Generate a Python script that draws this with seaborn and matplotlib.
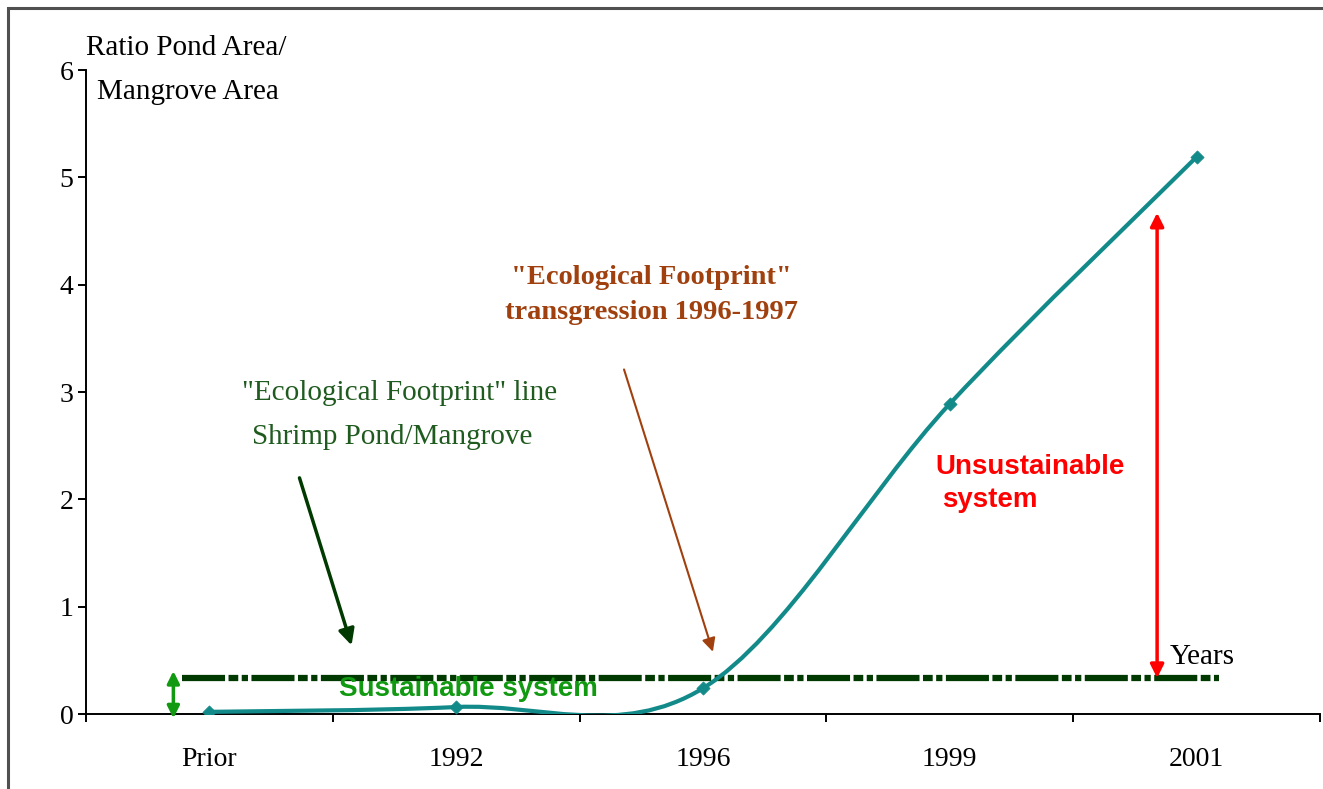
import numpy as np
import pandas as pd
import seaborn as sns
import matplotlib
matplotlib.use("Agg")
import matplotlib.pyplot as plt
from matplotlib.path import Path
from matplotlib.patches import PathPatch, Rectangle

# data
years = ["Prior", "1992", "1996", "1999", "2001"]
ratio = [0.02, 0.065, 0.24, 2.89, 5.19]
footprint_level = 0.335
footprint_span = [-0.11, 4.09]
y_ticks = [0, 1, 2, 3, 4, 5, 6]

teal = "#138a8a"
dark_green = "#003a00"
brown = "#a0400e"
red = "#ff0000"
green = "#119911"

sns.set_theme(style="white")
plt.rcParams['font.family'] = ['Liberation Serif', 'DejaVu Serif']
plt.rcParams['text.color'] = 'black'
plt.rcParams['xtick.color'] = 'black'
plt.rcParams['ytick.color'] = 'black'
plt.rcParams['lines.scale_dashes'] = False

fig = plt.figure(figsize=(13.23, 7.89), dpi=100)
ax = fig.add_axes([86 / 1323, 1 - 714 / 789, (1320 - 86) / 1323, (714 - 70) / 789])

df = pd.DataFrame({"pos": np.arange(len(years)), "ratio": ratio, "year": years})


def smooth_path(xs, ys):
    # excel-like smoothed line: cubic bezier with catmull-rom control points
    pts = np.column_stack([xs, ys]).astype(float)
    ext = np.vstack([pts[0], pts, pts[-1]])
    verts = [pts[0]]
    codes = [Path.MOVETO]
    for i in range(len(pts) - 1):
        p0, p1, p2, p3 = ext[i], ext[i + 1], ext[i + 2], ext[i + 3]
        verts += [p1 + (p2 - p0) / 6, p2 - (p3 - p1) / 6, p2]
        codes += [Path.CURVE4] * 3
    return Path(verts, codes)


# footprint line (dash dot dot)
ax.plot(footprint_span, [footprint_level, footprint_level], color=dark_green,
        lw=4.5, dashes=(31, 2.5, 7, 2.5, 4.5, 2.5), solid_capstyle='butt',
        dash_capstyle='butt', zorder=2)

ax.add_patch(PathPatch(smooth_path(df["pos"], df["ratio"]), fill=False,
                       ec=teal, lw=3, zorder=3))
sns.scatterplot(data=df, x="pos", y="ratio", marker='D', color=teal, s=45,
                edgecolor=teal, ax=ax, zorder=4, legend=False)

ax.set_xlim(-0.5, len(years) - 0.5)
ax.set_ylim(0, 6)
ax.set_xlabel("")
ax.set_ylabel("")
ax.set_yticks(y_ticks)
ax.set_xticks(np.arange(-0.5, len(years), 1.0))
ax.set_xticklabels([])
ax.set_xticks(np.arange(len(years)), minor=True)
ax.set_xticklabels(years, minor=True)
ax.tick_params(axis='x', which='major', direction='out', length=6, width=1.4,
               color='black', bottom=True)
ax.tick_params(axis='x', which='minor', length=0, pad=24, labelsize=20)
ax.tick_params(axis='y', direction='out', length=6, width=1.4, color='black',
               left=True, pad=3, labelsize=20)
for s in ['top', 'right']:
    ax.spines[s].set_visible(False)
for s in ['left', 'bottom']:
    ax.spines[s].set_color('black')
    ax.spines[s].set_linewidth(1.4)
ax.patch.set_alpha(0)

# axis labels
fig.text(86 / 1323, 1 - 48 / 789, "Ratio Pond Area/", fontsize=21,
         va='center', ha='left')
fig.text(97 / 1323, 1 - 92 / 789, "Mangrove Area", fontsize=21,
         va='center', ha='left')
ax.text(3.89, 0.53, "Years", fontsize=21, va='center', ha='left')

# annotations
ax.text(0.77, 2.99, "\"Ecological Footprint\" line", color="#1f5a1f",
        fontsize=21, ha='center', va='center')
ax.text(0.74, 2.58, "Shrimp Pond/Mangrove", color="#1f5a1f",
        fontsize=21, ha='center', va='center')
ax.annotate("", xy=(0.576, 0.64), xytext=(0.365, 2.2),
            arrowprops=dict(arrowstyle='-|>', color=dark_green, lw=2.5,
                            mutation_scale=24, shrinkA=0, shrinkB=0))

ax.text(1.79, 4.07, "\"Ecological Footprint\"", color=brown, fontsize=20.5,
        fontweight='bold', ha='center', va='center')
ax.text(1.79, 3.74, "transgression 1996-1997", color=brown, fontsize=20.5,
        fontweight='bold', ha='center', va='center')
ax.annotate("", xy=(2.04, 0.58), xytext=(1.68, 3.21),
            arrowprops=dict(arrowstyle='-|>', color=brown, lw=1.5,
                            mutation_scale=20, shrinkA=0, shrinkB=0))

ax.text(2.94, 2.30, "Unsustainable", color=red, fontsize=20,
        fontweight='bold', family=['Liberation Sans'], ha='left', va='center')
ax.text(2.97, 1.99, "system", color=red, fontsize=20,
        fontweight='bold', family=['Liberation Sans'], ha='left', va='center')
ax.annotate("", xy=(3.84, footprint_level), xytext=(3.84, 4.67),
            arrowprops=dict(arrowstyle='<|-|>', color=red, lw=2.5,
                            mutation_scale=20, shrinkA=0, shrinkB=0))

ax.text(1.05, 0.23, "Sustainable system", color=green, fontsize=20,
        fontweight='bold', family=['Liberation Sans'], ha='center',
        va='center', zorder=5)
ax.annotate("", xy=(-0.146, -0.04), xytext=(-0.146, 0.40),
            arrowprops=dict(arrowstyle='<|-|>', color=green, lw=2.5,
                            mutation_scale=18, shrinkA=0, shrinkB=0),
            annotation_clip=False)

# frame around the picture
fig.add_artist(Rectangle((8 / 1323, -0.05), 1.1, 1.05 - 8 / 789,
                         transform=fig.transFigure, fill=False,
                         ec='#505050', lw=2.2))

fig.savefig("out.png", dpi=100)
